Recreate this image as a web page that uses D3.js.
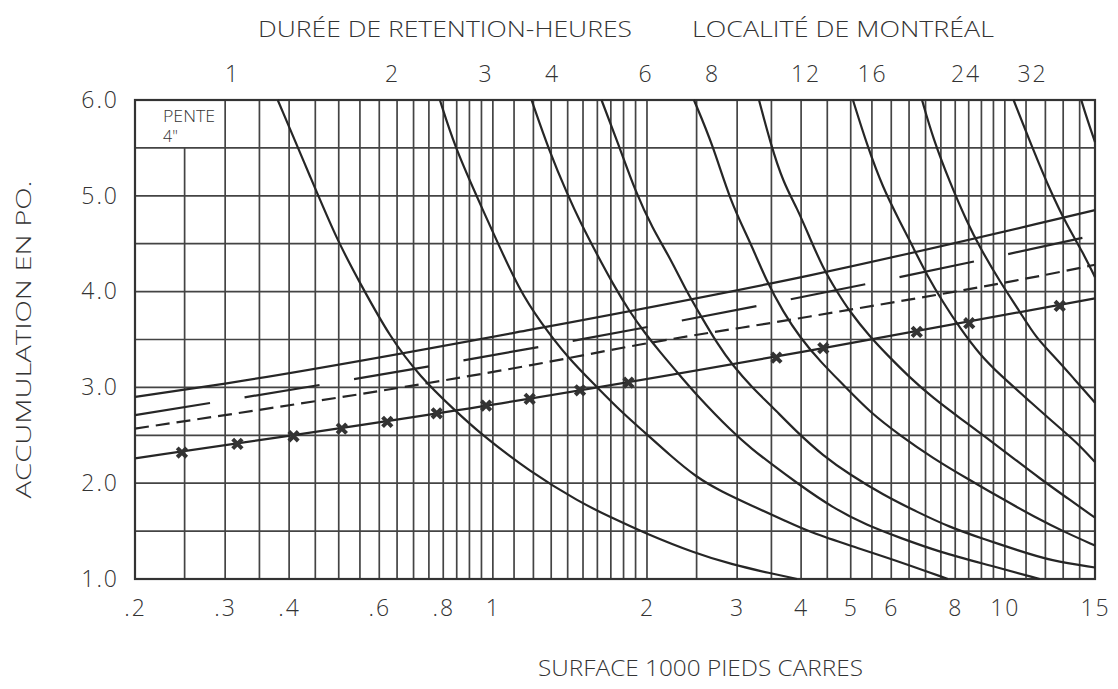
<!DOCTYPE html>
<html>
<head>
<meta charset="utf-8">
<script src="https://cdn.jsdelivr.net/npm/d3@7"></script>
<style>
  body { margin: 0; background: #fff; }
</style>
</head>
<body>
<svg id="chart" width="1118" height="689"></svg>
<script>
// Chart values

// axis labels
const surfaceTicks = [0.2, 0.3, 0.4, 0.6, 0.8, 1, 2, 3, 4, 5, 6, 8, 10, 15];
const surfaceLabels = [".2", ".3", ".4", ".6", ".8", "1", "2", "3", "4", "5", "6", "8", "10", "15"];
const accumTicks = [1, 2, 3, 4, 5, 6];
const hourTicks = [1, 2, 3, 4, 6, 8, 12, 16, 24, 32];

// retention curves [surface (1000 pi2), accumulation (po)]
const curve1h = [[0.380, 6.0], [0.443, 5.16], [0.496, 4.54], [0.550, 4.09], [0.630, 3.52], [0.721, 3.11], [0.843, 2.76], [0.944, 2.52], [1.18, 2.12], [1.48, 1.80], [1.69, 1.65], [1.98, 1.48], [2.48, 1.27], [2.94, 1.15], [3.48, 1.06], [3.93, 1.0]];
const curve2h = [[0.788, 6.0], [0.843, 5.51], [0.931, 4.99], [0.996, 4.64], [1.13, 4.00], [1.24, 3.68], [1.40, 3.31], [1.60, 3.00], [1.77, 2.76], [1.98, 2.53], [2.22, 2.29], [2.50, 2.06], [2.78, 1.92], [3.22, 1.76], [3.75, 1.60], [4.16, 1.49], [4.98, 1.35], [6.24, 1.18], [7.74, 1.0]];
const curve3h = [[1.19, 6.0], [1.29, 5.46], [1.40, 5.01], [1.48, 4.73], [1.60, 4.38], [1.72, 4.07], [1.85, 3.79], [1.98, 3.57], [2.12, 3.37], [2.29, 3.16], [2.48, 2.94], [2.94, 2.53], [3.22, 2.35], [3.48, 2.21], [3.93, 2.00], [4.62, 1.74], [5.38, 1.56], [6.24, 1.43], [7.47, 1.28], [9.23, 1.15], [11.7, 1.0]];
const curve4h = [[1.63, 6.0], [1.77, 5.50], [1.90, 5.04], [2.05, 4.66], [2.22, 4.35], [2.39, 4.00], [2.54, 3.76], [2.74, 3.46], [2.94, 3.23], [3.22, 2.99], [3.48, 2.82], [3.93, 2.53], [4.41, 2.29], [4.98, 2.09], [5.78, 1.88], [6.74, 1.70], [7.81, 1.54], [9.06, 1.42], [10.6, 1.30], [12.3, 1.19], [15, 1.12]];
const curve6h = [[2.47, 6.0], [2.69, 5.53], [2.91, 4.94], [3.18, 4.52], [3.43, 4.10], [3.69, 3.79], [3.98, 3.52], [4.36, 3.27], [4.83, 3.03], [5.45, 2.74], [6.24, 2.50], [7.24, 2.26], [8.43, 2.05], [9.79, 1.85], [11.4, 1.65], [13.2, 1.48], [15, 1.35]];
const curve8h = [[3.31, 6.0], [3.48, 5.56], [3.69, 5.14], [3.93, 4.87], [4.16, 4.56], [4.41, 4.25], [4.70, 4.00], [4.98, 3.79], [5.45, 3.53], [5.89, 3.34], [6.53, 3.10], [7.24, 2.89], [8.17, 2.68], [9.23, 2.47], [10.4, 2.26], [11.7, 2.05], [13.2, 1.85], [15, 1.64]];
const curve12h = [[5.05, 6.0], [5.38, 5.53], [5.78, 5.08], [6.24, 4.73], [6.62, 4.46], [7.05, 4.17], [7.57, 3.89], [8.17, 3.62], [8.94, 3.34], [9.79, 3.13], [11.0, 2.89], [12.4, 2.64], [13.8, 2.43], [15, 2.22]];
const curve16h = [[6.89, 6.0], [7.24, 5.60], [7.81, 5.14], [8.43, 4.73], [8.94, 4.46], [9.79, 4.10], [10.7, 3.79], [11.5, 3.52], [12.4, 3.34], [13.6, 3.10], [15, 2.84]];
const curve24h = [[10.4, 6.0], [11.4, 5.46], [12.3, 5.04], [13.2, 4.70], [14.2, 4.41], [15, 4.15]];
const curve32h = [[14.1, 6.0], [14.5, 5.79], [15, 5.56]];

// accumulation lines
const lineSolid = [[0.2, 2.90], [0.3, 3.04], [1.18, 3.60], [4.16, 4.17], [15, 4.85]];
const lineLongDash = [[0.2, 2.71], [0.77, 3.23], [2.05, 3.64], [8.8, 4.32], [15, 4.59]];
const lineShortDash = [[0.2, 2.57], [1.18, 3.23], [2.0, 3.46], [4.16, 3.74], [13.8, 4.24], [15, 4.28]];
const lineMarked = [[0.2, 2.26], [1.0, 2.82], [4.42, 3.41], [15, 3.93]];
const markPoints = [[0.247, 2.32], [0.317, 2.41], [0.408, 2.49], [0.507, 2.57], [0.622, 2.64], [0.777, 2.73], [0.970, 2.81], [1.18, 2.88], [1.48, 2.97], [1.84, 3.05], [3.58, 3.31], [4.42, 3.41], [6.73, 3.58], [8.52, 3.67], [12.8, 3.85]];

// paper grid
const gridSurface = [].concat(
    d3.range(4, 20).map(d => d / 20),     // .20 -> .95
    d3.range(10, 20).map(d => d / 10),    // 1.0 -> 1.9
    d3.range(4, 20).map(d => d / 2),      // 2 -> 9.5
    d3.range(10, 16));                    // 10 -> 15
const gridAccum = d3.range(2, 13).map(d => d / 2);

// colours & fonts
const ink = "#262626";
const gridInk = "#444444";
const font = "'Open Sans', 'DejaVu Sans', sans-serif";

const margin = { top: 100, right: 23, bottom: 110, left: 135 },
    width = 1118 - margin.left - margin.right,
    height = 689 - margin.top - margin.bottom;

const svg = d3.select("#chart")
    .append("g")
    .attr("transform", `translate(${margin.left}, ${margin.top})`);

const x = d3.scaleLog().domain([0.2, 15]).range([0, width]);
const y = d3.scaleLinear().domain([1, 6]).range([height, 0]);
// hours scale of the top row (own spacing on the original sheet)
const xh = d3.scaleLog().domain([1, 32]).range([97, 897]);

// vertical grid
svg.append("g")
    .selectAll("line")
    .data(gridSurface)
    .enter().append("line")
    .attr("x1", d => x(d)).attr("x2", d => x(d))
    .attr("y1", d => Math.abs(d - 0.25) < 1e-6 ? y(5.5) : y(6))
    .attr("y2", y(1))
    .attr("stroke", gridInk)
    .attr("stroke-width", 1.7);

// horizontal grid
svg.append("g")
    .selectAll("line")
    .data(gridAccum)
    .enter().append("line")
    .attr("x1", 0).attr("x2", width)
    .attr("y1", d => y(d)).attr("y2", d => y(d))
    .attr("stroke", gridInk)
    .attr("stroke-width", 1.7);

// frame
svg.append("rect")
    .attr("width", width).attr("height", height)
    .attr("fill", "none")
    .attr("stroke", "#333")
    .attr("stroke-width", 2.2);

// smooth french-curve look for the retention curves
const smooth = d3.line()
    .x(d => x(d[0]))
    .y(d => y(d[1]))
    .curve(d3.curveBasis);

const line = d3.line()
    .x(d => x(d[0]))
    .y(d => y(d[1]))
    .curve(d3.curveMonotoneX);

// retention curves
const curves = [curve1h, curve2h, curve3h, curve4h, curve6h, curve8h, curve12h, curve16h, curve24h, curve32h];
svg.append("g")
    .selectAll("path")
    .data(curves)
    .enter().append("path")
    .attr("d", smooth)
    .attr("fill", "none")
    .attr("stroke", ink)
    .attr("stroke-width", 2.2);

// accumulation lines
svg.append("path").datum(lineSolid)
    .attr("d", line).attr("fill", "none")
    .attr("stroke", ink).attr("stroke-width", 2.2);

svg.append("path").datum(lineLongDash)
    .attr("d", line).attr("fill", "none")
    .attr("stroke", ink).attr("stroke-width", 2.2)
    .attr("stroke-dasharray", "76,35");

svg.append("path").datum(lineShortDash)
    .attr("d", line).attr("fill", "none")
    .attr("stroke", ink).attr("stroke-width", 2.2)
    .attr("stroke-dasharray", "14,7");

svg.append("path").datum(lineMarked)
    .attr("d", line).attr("fill", "none")
    .attr("stroke", ink).attr("stroke-width", 2.2);

svg.append("g")
    .selectAll("path")
    .data(markPoints)
    .enter().append("path")
    .attr("d", d3.symbol().type(d3.symbolX).size(60))
    .attr("transform", d => `translate(${x(d[0])}, ${y(d[1])})`)
    .attr("fill", "none")
    .attr("stroke", "#333")
    .attr("stroke-width", 4);

// PENTE box
svg.append("text")
    .text("PENTE")
    .attr("x", x(0.2) + 28).attr("y", 22)
    .attr("textLength", 52)
    .attr("lengthAdjust", "spacingAndGlyphs")
    .attr("font-family", font).attr("font-size", 16).attr("font-weight", 300)
    .attr("fill", "#333");
svg.append("text")
    .text("4\"")
    .attr("x", x(0.2) + 28).attr("y", 42)
    .attr("font-family", font).attr("font-size", 16).attr("font-weight", 300)
    .attr("fill", "#333");

// axes (labels only, like the original sheet)
function styleAxis(g, size) {
    g.select(".domain").remove();
    g.selectAll(".tick line").remove();
    g.attr("font-family", font).attr("font-size", size);
    g.selectAll("text").attr("fill", "#333").attr("font-weight", 300).attr("letter-spacing", "2px");
}

svg.append("g")
    .attr("transform", `translate(0, ${height})`)
    .call(d3.axisBottom(x).tickValues(surfaceTicks).tickFormat((d, i) => surfaceLabels[i]).tickSize(0).tickPadding(21))
    .call(g => styleAxis(g, 23));

svg.append("g")
    .call(d3.axisLeft(y).tickValues(accumTicks).tickFormat(d3.format(".1f")).tickSize(0).tickPadding(16))
    .call(g => styleAxis(g, 23));

svg.append("g")
    .call(d3.axisTop(xh).tickValues(hourTicks).tickFormat(d3.format("d")).tickSize(0).tickPadding(18))
    .call(g => styleAxis(g, 23));

// titles
const titles = [
    { t: "DURÉE DE RETENTION-HEURES", x: 258 - margin.left, y: -63, w: 374 },
    { t: "LOCALITÉ DE MONTRÉAL", x: 692 - margin.left, y: -63, w: 302 },
    { t: "SURFACE 1000 PIEDS CARRES", x: 538 - margin.left, y: height + 97, w: 325 }
];
svg.selectAll(".title")
    .data(titles)
    .enter().append("text")
    .attr("class", "title")
    .text(d => d.t)
    .attr("x", d => d.x).attr("y", d => d.y)
    .attr("textLength", d => d.w)
    .attr("lengthAdjust", "spacingAndGlyphs")
    .attr("font-family", font).attr("font-size", 22).attr("font-weight", 300)
    .attr("fill", "#333");

svg.append("text")
    .text("ACCUMULATION EN PO.")
    .attr("transform", `translate(${24 - margin.left}, ${y(3.5)}) rotate(-90)`)
    .attr("text-anchor", "middle")
    .attr("dy", "0.35em")
    .attr("textLength", 318)
    .attr("lengthAdjust", "spacingAndGlyphs")
    .attr("font-family", font).attr("font-size", 21).attr("font-weight", 300)
    .attr("fill", "#333");
</script>
</body>
</html>
